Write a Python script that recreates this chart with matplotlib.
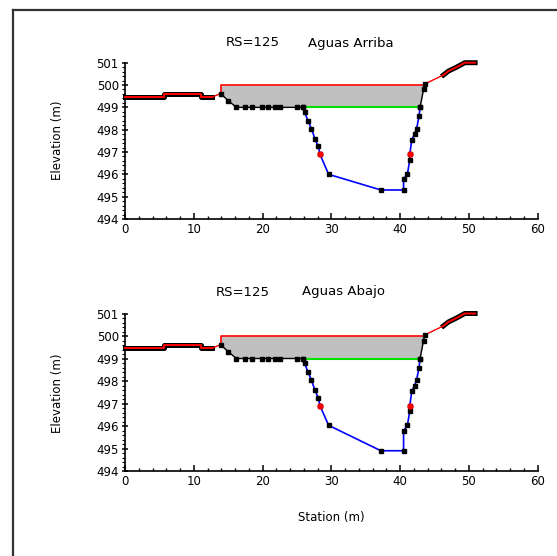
import numpy as np
import matplotlib
matplotlib.use("Agg")
import matplotlib.pyplot as plt
from matplotlib.lines import Line2D

# ---------------- data ----------------
titles_rs = ["RS=125", "RS=125"]
titles_name = ["Aguas Arriba", "Aguas Abajo"]

# left overbank (drawn thick)
lob_x = [0.0, 5.6, 5.6, 11.1, 11.1, 12.7]
lob_y = [499.46, 499.46, 499.61, 499.61, 499.46, 499.46]
# right overbank
rob_x = [46.3, 47.0, 48.2, 49.4, 50.9]
rob_y = [500.45, 500.62, 500.80, 501.0, 501.0]

# channel (upper black part, left side)
chl_x = [13.9, 15.0, 16.2, 17.4, 18.4, 19.9, 20.8, 21.8, 22.5, 25.0, 25.9]
chl_y = [499.62, 499.3, 499.0, 499.0, 499.0, 499.0, 499.0, 499.0, 499.0, 499.0, 499.0]
# channel (upper black part, right side)
chr_x = [42.9, 43.4, 43.6]
chr_y = [499.0, 499.8, 500.05]

# blue channel, upstream section
up_x = [25.9, 26.1, 26.6, 27.1, 27.6, 28.1, 28.35, 29.6, 37.2, 40.5, 40.5, 41.05, 41.4, 41.4, 41.7, 42.1, 42.4, 42.75, 42.9]
up_y = [499.0, 498.8, 498.4, 498.05, 497.6, 497.25, 496.9, 496.0, 495.3, 495.3, 495.8, 496.0, 496.65, 496.9, 497.55, 497.8, 498.05, 498.6, 499.0]
# blue channel, downstream section
dn_x = [25.9, 26.1, 26.6, 27.1, 27.6, 28.1, 28.35, 29.6, 37.2, 40.5, 40.5, 41.05, 41.4, 41.4, 41.7, 42.1, 42.4, 42.75, 42.9]
dn_y = [499.0, 498.8, 498.4, 498.05, 497.6, 497.25, 496.9, 496.03, 494.9, 494.9, 495.78, 496.03, 496.65, 496.9, 497.55, 497.8, 498.05, 498.6, 499.0]

bank_x = [28.35, 41.4]
bank_y = [496.9, 496.9]

ws_elev = 500.0      # red line
green_elev = 499.0   # green line
ws_x = [13.9, 43.6]
green_x = [25.9, 42.9]

x_ticks = [0, 10, 20, 30, 40, 50, 60]
y_ticks = [494, 495, 496, 497, 498, 499, 500, 501]

# ---------------- figure ----------------
W, H = 557, 556
fig = plt.figure(figsize=(W / 100, H / 100), dpi=100)
fig.patch.set_facecolor("white")

# outer frame
fig.add_artist(Line2D([13 / W, 13 / W], [0, 1 - 10 / H], transform=fig.transFigure, color="#333333", lw=1.6))
fig.add_artist(Line2D([13 / W, 1], [1 - 10 / H, 1 - 10 / H], transform=fig.transFigure, color="#333333", lw=1.6))

ax_left = 125 / W
ax_w = (537.7 - 125) / W
panels = [
    dict(bottom=1 - 219 / H, top=1 - 62.7 / H, cx=up_x, cy=up_y, title_y=43, rs_x=226, name_x=308, lab_y=140),
    dict(bottom=1 - 471 / H, top=1 - 313.5 / H, cx=dn_x, cy=dn_y, title_y=292, rs_x=216, name_x=302, lab_y=393),
]

for i, p in enumerate(panels):
    ax = fig.add_axes([ax_left, p["bottom"], ax_w, p["top"] - p["bottom"]])
    ax.set_xlim(0, 60)
    ax.set_ylim(494, 501)
    for s in ["top", "right"]:
        ax.spines[s].set_visible(False)
    for s in ["left", "bottom"]:
        ax.spines[s].set_linewidth(1.2)
    ax.set_xticks(x_ticks)
    ax.set_yticks(y_ticks)
    ax.set_xticks(np.arange(0, 61, 2), minor=True)
    ax.set_yticks(np.arange(494, 501.01, 0.2), minor=True)
    ax.tick_params(axis="x", which="major", direction="in", length=4, width=1.1, labelsize=8.5, pad=3)
    ax.tick_params(axis="x", which="minor", direction="in", length=2.5, width=1.0)
    ax.tick_params(axis="y", which="major", direction="inout", length=5, width=1.1, labelsize=8.5, pad=2)
    ax.tick_params(axis="y", which="minor", direction="out", length=2, width=0.8)

    # gray fill between ws and max(ground, green)
    fx = np.array(chl_x + list(p["cx"][1:-1]) + chr_x)
    fy = np.array(chl_y + list(p["cy"][1:-1]) + chr_y)
    lower = np.maximum(fy, green_elev)
    lower = np.minimum(lower, ws_elev)
    ax.fill_between(fx, lower, ws_elev, color="#c0c0c0", lw=0, zorder=1)

    # red ws line with vertical at left
    ax.plot([ws_x[0], ws_x[0], ws_x[1]], [chl_y[0], ws_elev, ws_elev], color="red", lw=1.2, zorder=3)
    # green line
    ax.plot(green_x, [green_elev, green_elev], color="#00e000", lw=1.5, zorder=3)

    # overbanks: thick black with red core
    for ox, oy in [(lob_x, lob_y), (rob_x, rob_y)]:
        ax.plot(ox, oy, color="black", lw=3.6, solid_capstyle="projecting", zorder=4, clip_on=False)
        ax.plot(ox, oy, color="red", lw=1.4, zorder=5, clip_on=False)
    # red connectors
    ax.plot([lob_x[-1], chl_x[0]], [lob_y[-1], chl_y[0]], color="red", lw=1.0, zorder=4)
    ax.plot([chr_x[-1], rob_x[0]], [chr_y[-1], rob_y[0]], color="red", lw=1.0, zorder=4)

    # channel upper black parts
    ax.plot(chl_x, chl_y, color="black", lw=1.0, marker="s", ms=3.2, zorder=5)
    ax.plot(chr_x, chr_y, color="black", lw=1.0, marker="s", ms=3.2, zorder=5)
    # blue channel
    ax.plot(p["cx"], p["cy"], color="#0000ff", lw=1.2, zorder=5)
    ax.plot(p["cx"], p["cy"], color="black", lw=0, marker="s", ms=3.2, zorder=6)
    ax.plot(bank_x, bank_y, color="red", lw=0, marker="o", ms=3.5, zorder=6)

    # titles
    fig.text(p["rs_x"] / W, 1 - p["title_y"] / H, titles_rs[i], fontsize=9.5, va="center", ha="left")
    fig.text(p["name_x"] / W, 1 - p["title_y"] / H, titles_name[i], fontsize=9.5, va="center", ha="left")
    # y label
    fig.text(58 / W, 1 - p["lab_y"] / H, "Elevation (m)", rotation=90, fontsize=8.5, va="center", ha="center")

fig.text(331 / W, 1 - 517 / H, "Station (m)", fontsize=8.5, va="center", ha="center")

fig.savefig("out.png", dpi=100)
